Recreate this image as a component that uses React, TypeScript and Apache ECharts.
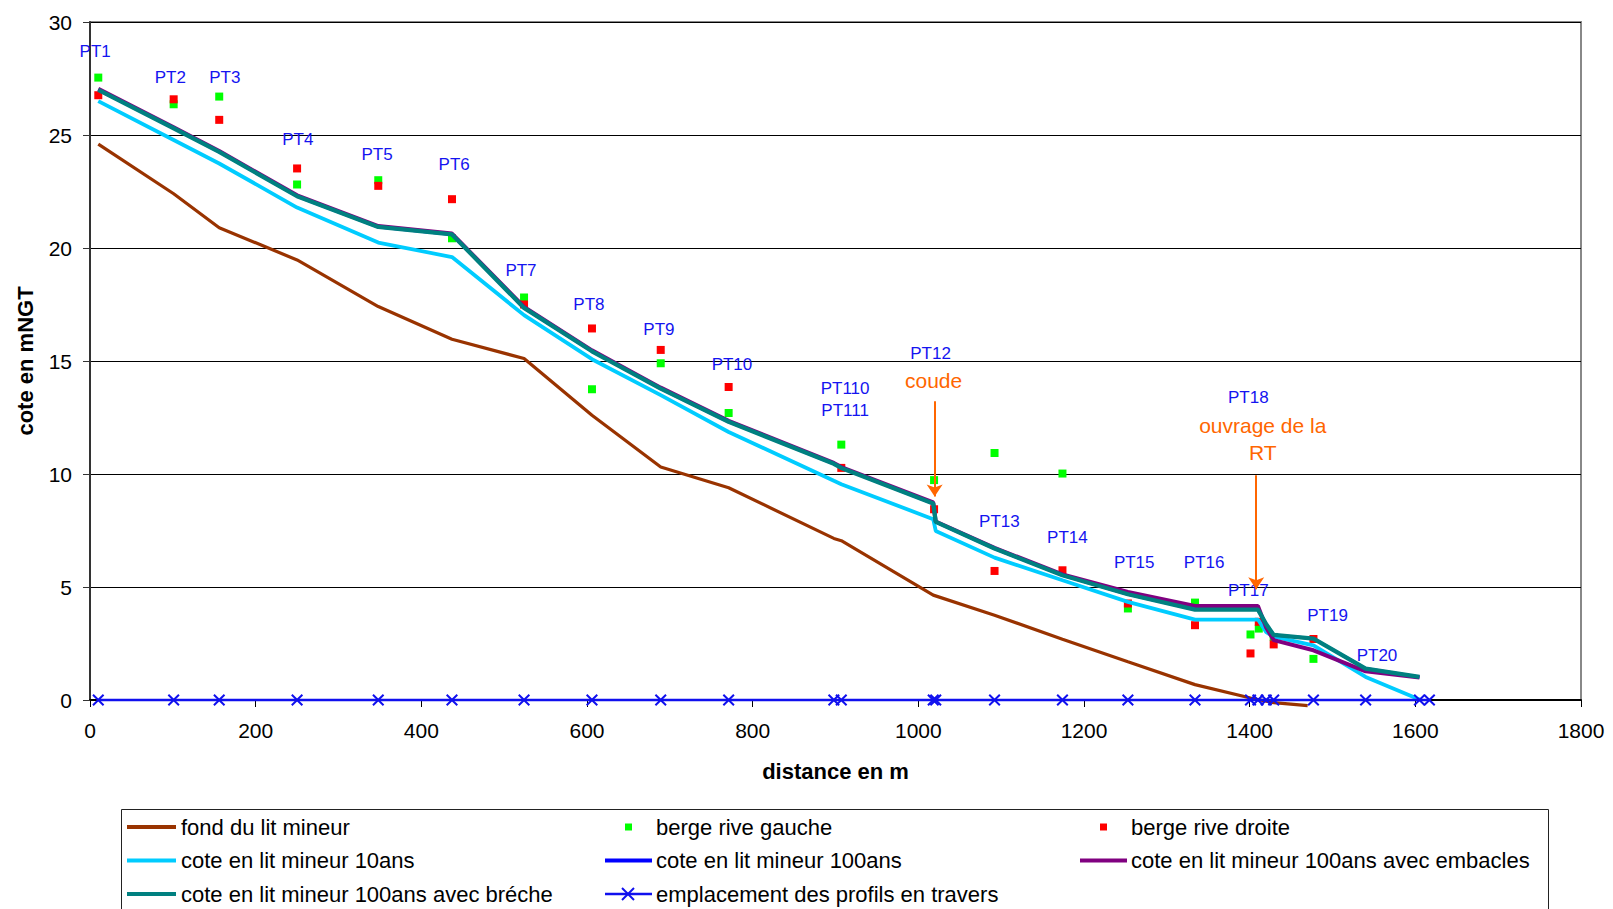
import React, { useEffect, useRef } from "react";
import * as echarts from "echarts";

// profile positions (m) used by the water lines
const profileX = [10, 101, 156, 250, 348, 437, 524, 606, 689, 771, 898, 907, 1018, 1021, 1092, 1174, 1253, 1334, 1401, 1410, 1420, 1429, 1477, 1540, 1605];
// all cross-section locations
const profilMarkX = [10, 101, 156, 250, 348, 437, 524, 606, 689, 771, 898, 907, 1018, 1021, 1092, 1174, 1253, 1334, 1401, 1410, 1420, 1429, 1477, 1540, 1605, 1617];

const fondX = [10, 101, 156, 250, 348, 437, 524, 606, 689, 771, 898, 907, 1018, 1092, 1174, 1253, 1334, 1401, 1429, 1470];
const fondY = [24.6, 22.4, 20.9, 19.47, 17.41, 15.96, 15.11, 12.6, 10.31, 9.39, 7.15, 7.05, 4.64, 3.75, 2.69, 1.69, 0.68, 0.09, -0.12, -0.25];

const cote10 = [26.5, 24.78, 23.74, 21.79, 20.24, 19.6, 17.03, 15.08, 13.49, 11.86, 9.7, 9.55, 8.0, 7.48, 6.3, 5.3, 4.34, 3.56, 3.56, 3.56, 3.0, 2.8, 2.42, 1.02, 0.02];
const cote100 = [27.0, 25.3, 24.25, 22.29, 20.93, 20.6, 17.35, 15.43, 13.78, 12.31, 10.45, 10.27, 8.69, 7.88, 6.7, 5.52, 4.68, 4.0, 4.0, 4.0, 3.35, 2.88, 2.72, 1.39, 1.02];
const coteEmbacles = [27.04, 25.34, 24.29, 22.33, 20.97, 20.64, 17.39, 15.47, 13.82, 12.35, 10.49, 10.31, 8.74, 7.9, 6.73, 5.56, 4.78, 4.16, 4.16, 4.16, 3.2, 2.65, 2.2, 1.27, 1.0];
const coteBreche = [27.0, 25.3, 24.25, 22.29, 20.93, 20.6, 17.35, 15.43, 13.78, 12.31, 10.45, 10.27, 8.69, 7.88, 6.7, 5.52, 4.68, 4.0, 4.0, 4.0, 3.35, 2.88, 2.72, 1.39, 1.02];

const bergeX = [10, 101, 156, 250, 348, 437, 524, 606, 689, 771, 907, 1019, 1092, 1174, 1253, 1334, 1401, 1411, 1429, 1477];
const bergeGauche = [27.54, 26.36, 26.7, 22.81, 23.0, 20.43, 17.81, 13.75, 14.9, 12.7, 11.3, 9.73, 10.93, 10.02, 4.05, 4.31, 2.9, 3.16, 2.79, 1.82];
const bergeDroite = [26.76, 26.58, 25.67, 23.52, 22.75, 22.16, 17.5, 16.44, 15.49, 13.85, 10.27, 8.44, 5.71, 5.74, 4.27, 3.31, 2.06, 3.46, 2.46, 2.7];

const ptNames = ["PT1", "PT2", "PT3", "PT4", "PT5", "PT6", "PT7", "PT8", "PT9", "PT10", "PT110", "PT111", "PT12", "PT13", "PT14", "PT15", "PT16", "PT17", "PT18", "PT19", "PT20"];
const ptX = [6.3, 97, 162.7, 250.9, 346.5, 439.7, 520.3, 602.3, 686.8, 775, 911.6, 911.6, 1014.7, 1097.9, 1179.9, 1260.6, 1345, 1398.4, 1398.4, 1494, 1553.7];
const ptY = [28.69, 27.55, 27.55, 24.82, 24.14, 23.68, 19.0, 17.49, 16.4, 14.85, 13.8, 12.8, 15.35, 7.88, 7.2, 6.07, 6.07, 4.84, 13.4, 3.74, 1.97];

const noteNames = ["coude", "ouvrage de la\nRT"];
const noteX = [1018.4, 1415.8];
const noteY = [14.12, 11.53];

const arrowX = [1019.7, 1407.9];
const arrowFrom = [13.22, 9.95];
const arrowTo = [9.0, 4.9];

const xTicks = { min: 0, max: 1800, interval: 200 };
const yTicks = { min: 0, max: 30, interval: 5 };

const FONT = "'Liberation Sans', Arial, Helvetica, sans-serif";
const C_FOND = "#993300";
const C_10 = "#00ccff";
const C_100 = "#0000ff";
const C_EMB = "#800080";
const C_BRE = "#008080";
const C_PROF = "#1010ee";
const C_GREEN = "#00ff00";
const C_RED = "#ff0000";
const C_LABEL = "#1414f0";
const C_ORANGE = "#ff6600";

const X_PATH =
  "path://M0,1.4L1.4,0L6,4.6L10.6,0L12,1.4L7.4,6L12,10.6L10.6,12L6,7.4L1.4,12L0,10.6L4.6,6Z";

function pairs(xs: number[], ys: number[]) {
  return ys.map((y, i) => [xs[i], y]);
}

export default function App() {
  const ref = useRef<HTMLDivElement>(null);

  useEffect(() => {
    const chart = echarts.init(ref.current as HTMLDivElement, null, { renderer: "svg" });

    const lineSeries = (name: string, data: number[][], color: string, width: number, extra: any = {}) => ({
      name,
      type: "line",
      data,
      symbol: "none",
      lineStyle: { color, width },
      itemStyle: { color },
      silent: true,
      ...extra,
    });

    // legend drawn as graphic
    const rows = [827, 860.5, 894];
    const cols = [
      { x1: 127, x2: 176, tx: 181 },
      { x1: 605, x2: 652, tx: 656 },
      { x1: 1080, x2: 1127, tx: 1131 },
    ];
    const legendText = (c: number, r: number, text: string) => ({
      type: "text",
      style: {
        text,
        x: cols[c].tx,
        y: rows[r],
        font: `22px ${FONT}`,
        fill: "#000",
        align: "left",
        verticalAlign: "middle",
        textAlign: "left",
        textVerticalAlign: "middle",
      },
    });
    const legendLine = (c: number, r: number, color: string, w = 4) => ({
      type: "line",
      shape: { x1: cols[c].x1, y1: rows[r], x2: cols[c].x2, y2: rows[r] },
      style: { stroke: color, lineWidth: w },
    });
    const legendSquare = (c: number, r: number, color: string) => ({
      type: "rect",
      shape: { x: (cols[c].x1 + cols[c].x2) / 2 - 3.5, y: rows[r] - 3.5, width: 7, height: 7 },
      style: { fill: color },
    });

    const graphic: any[] = [
      {
        type: "rect",
        shape: { x: 121.5, y: 809.5, width: 1427, height: 130 },
        style: { fill: "none", stroke: "#222", lineWidth: 1 },
      },
      legendLine(0, 0, C_FOND),
      legendText(0, 0, "fond du lit mineur"),
      legendLine(0, 1, C_10),
      legendText(0, 1, "cote en lit mineur 10ans"),
      legendLine(0, 2, C_BRE),
      legendText(0, 2, "cote en lit mineur 100ans avec bréche"),
      legendSquare(1, 0, C_GREEN),
      legendText(1, 0, "berge rive gauche"),
      legendLine(1, 1, C_100),
      legendText(1, 1, "cote en lit mineur 100ans"),
      legendLine(1, 2, C_PROF, 2.5),
      {
        type: "polyline",
        shape: { points: [[622, rows[2] - 6], [634, rows[2] + 6]] },
        style: { stroke: C_PROF, lineWidth: 2, fill: "none" },
      },
      {
        type: "polyline",
        shape: { points: [[634, rows[2] - 6], [622, rows[2] + 6]] },
        style: { stroke: C_PROF, lineWidth: 2, fill: "none" },
      },
      legendText(1, 2, "emplacement des profils en travers"),
      legendSquare(2, 0, C_RED),
      legendText(2, 0, "berge rive droite"),
      legendLine(2, 1, C_EMB),
      legendText(2, 1, "cote en lit mineur 100ans avec embacles"),
    ];

    const ptData = ptNames.map((n, i) => ({
      name: n,
      value: [ptX[i], ptY[i]],
      label: { color: C_LABEL, fontSize: 17 },
    }));
    const noteData = noteNames.map((n, i) => ({
      name: n,
      value: [noteX[i], noteY[i]],
      label: { color: C_ORANGE, fontSize: 21, lineHeight: 27 },
    }));

    const option: any = {
      animation: false,
      backgroundColor: "#fff",
      textStyle: { fontFamily: FONT },
      grid: {
        left: 90,
        right: 32,
        top: 22,
        bottom: 209,
        show: true,
        borderColor: "#888",
        borderWidth: 2,
        backgroundColor: "transparent",
      },
      xAxis: {
        type: "value",
        min: xTicks.min,
        max: xTicks.max,
        interval: xTicks.interval,
        name: "distance en m",
        nameLocation: "middle",
        nameGap: 60,
        nameTextStyle: { fontSize: 22, fontWeight: "bold", color: "#000", fontFamily: FONT },
        axisLine: { show: true, onZero: false, lineStyle: { color: "#000", width: 2 } },
        axisTick: { show: true, length: 7, lineStyle: { color: "#000" } },
        axisLabel: {
          fontSize: 21,
          color: "#000",
          margin: 20,
          fontFamily: FONT,
          formatter: (v: number) => String(v),
        },
        splitLine: { show: false },
      },
      yAxis: {
        type: "value",
        min: yTicks.min,
        max: yTicks.max,
        interval: yTicks.interval,
        name: "cote en mNGT",
        nameLocation: "middle",
        nameGap: 54,
        nameRotate: 90,
        nameTextStyle: { fontSize: 22, fontWeight: "bold", color: "#000", fontFamily: FONT },
        axisLine: { show: true, lineStyle: { color: "#333", width: 2 } },
        axisTick: { show: true, length: 7, lineStyle: { color: "#333" } },
        axisLabel: {
          fontSize: 21,
          color: "#000",
          margin: 18,
          fontFamily: FONT,
          formatter: (v: number) => String(v),
        },
        splitLine: { show: true, lineStyle: { color: "#000", width: 1 } },
      },
      graphic,
      series: [
        lineSeries("fond du lit mineur", pairs(fondX, fondY), C_FOND, 3.2, { clip: false }),
        lineSeries("cote en lit mineur 10ans", pairs(profileX, cote10), C_10, 3.8),
        lineSeries("cote en lit mineur 100ans", pairs(profileX, cote100), C_100, 3),
        lineSeries("cote en lit mineur 100ans avec embacles", pairs(profileX, coteEmbacles), C_EMB, 4),
        lineSeries("cote en lit mineur 100ans avec bréche", pairs(profileX, coteBreche), C_BRE, 4.3),
        {
          name: "emplacement des profils en travers",
          type: "line",
          data: profilMarkX.map((x) => [x, 0]),
          symbol: X_PATH,
          symbolSize: 12,
          showSymbol: true,
          lineStyle: { color: C_PROF, width: 2.5 },
          itemStyle: { color: C_PROF, opacity: 1 },
          silent: true,
          clip: false,
        },
        {
          name: "annotations",
          type: "scatter",
          data: [...ptData, ...noteData],
          symbol: "rect",
          symbolSize: 1,
          itemStyle: { color: "rgba(0,0,0,0)", opacity: 1 },
          silent: true,
          label: {
            show: true,
            position: "inside",
            formatter: (p: any) => p.name,
            fontFamily: FONT,
            opacity: 1,
            align: "center",
            verticalAlign: "middle",
          },
          markLine: {
            silent: true,
            symbol: ["none", "arrow"],
            symbolSize: 12,
            label: { show: false },
            lineStyle: { color: C_ORANGE, width: 2, type: "solid", opacity: 1 },
            emphasis: { disabled: true },
            data: arrowX.map((x, i) => [{ coord: [x, arrowFrom[i]] }, { coord: [x, arrowTo[i]] }]),
          },
        },
        {
          name: "berge rive gauche",
          type: "scatter",
          data: pairs(bergeX, bergeGauche),
          symbol: "rect",
          symbolSize: 8,
          itemStyle: { color: C_GREEN, opacity: 1 },
          silent: true,
        },
        {
          name: "berge rive droite",
          type: "scatter",
          data: pairs(bergeX, bergeDroite),
          symbol: "rect",
          symbolSize: 8,
          itemStyle: { color: C_RED, opacity: 1 },
          silent: true,
        },
      ],
    };

    chart.setOption(option);
    return () => chart.dispose();
  }, []);

  return (
    <div
      ref={ref}
      style={{ position: "fixed", left: 0, top: 0, width: 1613, height: 909, background: "#fff" }}
    />
  );
}
